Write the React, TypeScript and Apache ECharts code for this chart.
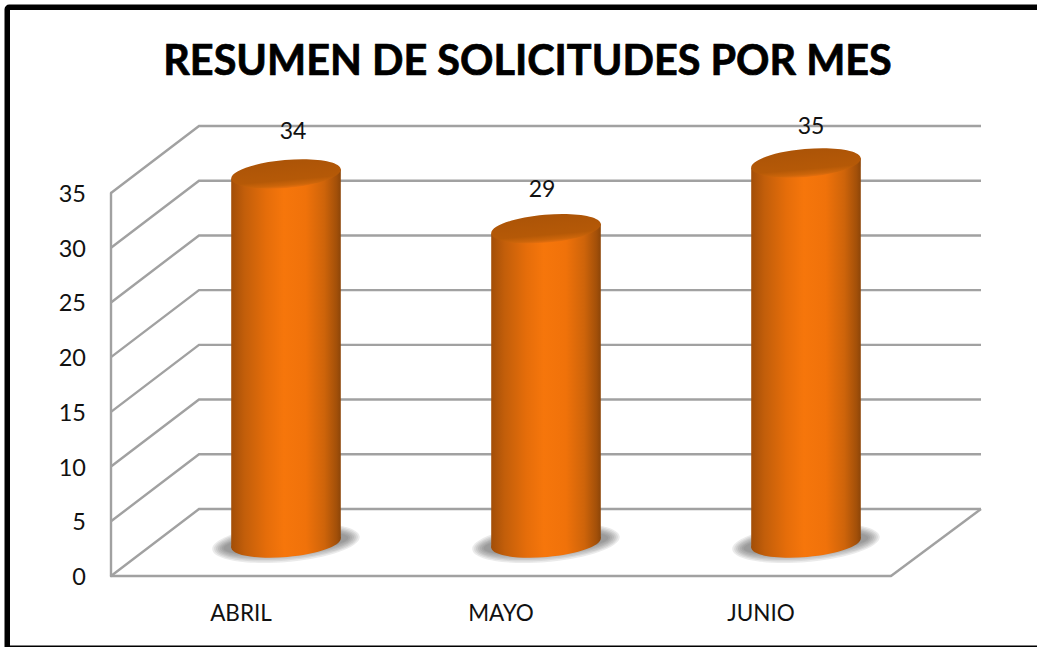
import React, { useEffect, useRef } from "react";
import * as echarts from "echarts";

const titleText = "RESUMEN DE SOLICITUDES POR MES";
const categories = ["ABRIL", "MAYO", "JUNIO"];
const solicitudes = [34, 29, 35];
const wallTicks = [0, 5, 10, 15, 20, 25, 30, 35];

// Styling constants for the imitated 3D perspective
const DEPTH_X = 88;
const DEPTH_Y = 67;
const BACK_WIDTH = 782;
const BAR_SHIFT_X = 45;
const TOP_SHIFT_Y = 30;
const BASE_SHIFT_Y = 33;
const RX = 55;
const RY = 14;
const TILT = (5 * Math.PI) / 180;
const LABEL_OFFSETS = [
  [52, -74],
  [41, -71],
  [50, -68],
];
const SHADOW_STEPS = [0, 1, 2, 3, 4, 5, 6];
const FONT = "Lato, Carlito, sans-serif";
const LINE = "#A1A1A1";
const LINE_W = 2.4;

function renderWall(params: any, api: any) {
  const p = api.coord([0, api.value(1)]);
  const x = params.coordSys.x;
  return {
    type: "polyline",
    shape: {
      points: [
        [x, p[1]],
        [x + DEPTH_X, p[1] - DEPTH_Y],
        [x + DEPTH_X + BACK_WIDTH, p[1] - DEPTH_Y],
      ],
    },
    style: { stroke: LINE, lineWidth: LINE_W, fill: "none" },
    silent: true,
  };
}

function renderFloor(params: any, api: any) {
  const p = api.coord([0, api.value(1)]);
  const c = params.coordSys;
  return {
    type: "polyline",
    shape: {
      points: [
        [c.x + c.width, p[1]],
        [c.x + DEPTH_X + BACK_WIDTH, p[1] - DEPTH_Y],
      ],
    },
    style: { stroke: LINE, lineWidth: LINE_W, fill: "none" },
    silent: true,
  };
}

function bodyGradient() {
  return new echarts.graphic.LinearGradient(0, 0, 1, 0, [
    { offset: 0, color: "#A24E08" },
    { offset: 0.12, color: "#C25E0A" },
    { offset: 0.32, color: "#E56D0A" },
    { offset: 0.48, color: "#F6760B" },
    { offset: 0.68, color: "#F0720A" },
    { offset: 0.85, color: "#CE640A" },
    { offset: 0.96, color: "#A35009" },
    { offset: 1, color: "#8C4508" },
  ]);
}

function renderCylinder(params: any, api: any) {
  const idx = params.dataIndex;
  const top = api.coord([api.value(0), api.value(1)]);
  const base = api.coord([api.value(0), 0]);
  const cx = top[0] + BAR_SHIFT_X;
  const topY = top[1] - TOP_SHIFT_Y;
  const baseY = base[1] - BASE_SHIFT_Y;
  const dx = RX * Math.cos(TILT);
  const dy = RX * Math.sin(TILT);
  const off = LABEL_OFFSETS[idx];
  const shadows = SHADOW_STEPS.map((s) => ({
    type: "ellipse",
    x: cx,
    y: baseY,
    rotation: TILT,
    shape: { cx: 0, cy: 0, rx: 74 - s * 1.9, ry: 19 - s * 1.5 },
    style: { fill: "rgba(90,90,90,0.12)" },
  }));
  return {
    type: "group",
    children: [
      ...shadows,
      {
        type: "ellipse",
        x: cx,
        y: baseY,
        rotation: TILT,
        shape: { cx: 0, cy: 0, rx: RX, ry: RY },
        style: { fill: bodyGradient() },
      },
      {
        type: "polygon",
        shape: {
          points: [
            [cx - dx, topY + dy],
            [cx - dx, baseY + dy],
            [cx + dx, baseY - dy],
            [cx + dx, topY - dy],
          ],
        },
        style: { fill: bodyGradient() },
      },
      {
        type: "ellipse",
        x: cx,
        y: topY,
        rotation: TILT,
        shape: { cx: 0, cy: 0, rx: RX, ry: RY },
        style: {
          fill: new echarts.graphic.LinearGradient(0, 0, 0, 1, [
            { offset: 0, color: "#AC5407" },
            { offset: 0.72, color: "#B55907" },
            { offset: 0.9, color: "#CC650A" },
            { offset: 1, color: "#E9700E" },
          ]),
        },
      },
      {
        type: "text",
        style: {
          text: String(api.value(1)),
          x: top[0] + off[0],
          y: top[1] + off[1],
          align: "center",
          verticalAlign: "middle",
          fontFamily: FONT,
          fontSize: 23,
          fill: "#111111",
        },
      },
    ],
  };
}

export default function App() {
  const ref = useRef<HTMLDivElement>(null);

  useEffect(() => {
    document.body.style.margin = "0";
    const chart = echarts.init(ref.current!, null, { renderer: "svg" });
    chart.setOption({
      animation: false,
      backgroundColor: "#FFFFFF",
      title: {
        text: titleText,
        left: 522.5,
        top: 33,
        textAlign: "center",
        textStyle: {
          fontFamily: FONT,
          fontSize: 41.4,
          fontWeight: "bold",
          color: "#000000",
          textBorderColor: "#000000",
          textBorderWidth: 0.7,
        },
      },
      graphic: [
        {
          type: "rect",
          shape: { x: 7.25, y: 7.25, width: 1045, height: 641, r: 2 },
          style: { fill: "none", stroke: "#000000", lineWidth: 5.5 },
          silent: true,
        },
      ],
      grid: { left: 111, top: 193, width: 780, height: 383 },
      xAxis: {
        type: "category",
        data: categories,
        axisTick: { show: false },
        axisLine: { show: true, lineStyle: { color: LINE, width: LINE_W } },
        axisLabel: { margin: 25, fontFamily: FONT, fontSize: 22.5, color: "#111111" },
      },
      yAxis: {
        type: "value",
        min: 0,
        max: 35,
        interval: 5,
        splitLine: { show: false },
        axisTick: { show: false },
        axisLine: { show: true, lineStyle: { color: LINE, width: LINE_W } },
        axisLabel: { margin: 25, fontFamily: FONT, fontSize: 23.5, color: "#111111" },
      },
      series: [
        { type: "custom", z: 1, renderItem: renderWall, data: wallTicks.map((v) => [0, v]) },
        { type: "custom", z: 1, renderItem: renderFloor, data: [[0, wallTicks[0]]] },
        {
          type: "custom",
          z: 3,
          renderItem: renderCylinder,
          data: solicitudes.map((v, i) => [i, v]),
        },
      ],
    });
    return () => chart.dispose();
  }, []);

  return <div ref={ref} style={{ width: 1037, height: 647 }} />;
}
